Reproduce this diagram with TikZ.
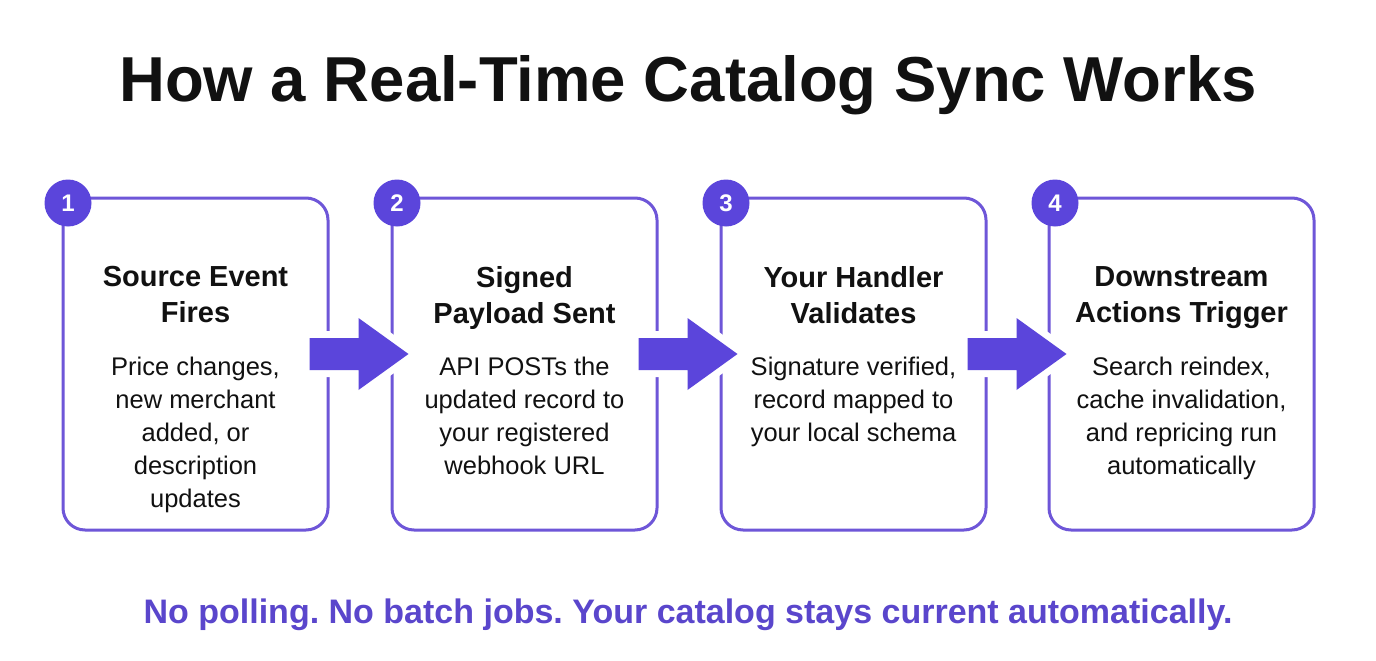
\documentclass[tikz,border=0pt]{standalone}
\usepackage{fontspec}
\setmainfont{Liberation Sans}
\usetikzlibrary{calc}
\frenchspacing
\definecolor{accent}{HTML}{5B45DB}
\definecolor{boxline}{HTML}{6E56D8}
\definecolor{foot}{HTML}{5A46CC}
\definecolor{ink}{HTML}{111111}
\tikzset{
  stepbox/.style={draw=boxline, line width=3pt, rounded corners=22pt, minimum width=265pt, minimum height=332pt, inner sep=0pt, fill=white},
  badge/.style={circle, fill=accent, minimum size=47pt, inner sep=0pt, text=white, font=\fontsize{24}{26}\selectfont\bfseries},
  steptitle/.style={anchor=north, align=center, inner sep=0pt, text=ink, font=\fontsize{29}{36}\selectfont\bfseries},
  stepbody/.style={anchor=north, align=center, inner sep=0pt, text=ink, font=\fontsize{25.5}{33}\selectfont},
  arrowhalo/.style={draw=white, fill=white, line width=14pt, line join=miter},
  arrowfill/.style={fill=accent},
}
\begin{document}
\begin{tikzpicture}[x=1pt,y=-1pt]
\useasboundingbox[fill=white] (0,0) rectangle (1376,661);
\node[anchor=base, inner sep=0pt, text=ink, font=\fontsize{63.5}{70}\selectfont\bfseries] (title) at (688,101) {How a Real-Time Catalog Sync Works};

\foreach \i/\cx in {1/195.5,2/524.5,3/853.5,4/1181.5}{
  \node[stepbox] (b\i) at (\cx,364) {};
}

% block arrows between consecutive boxes
\foreach \i in {1,2,3}{
  \path let \p1=(b\i.east) in
    coordinate (a\i s) at (\x1-20,354)
    coordinate (a\i t) at (\x1+79,354);
  \filldraw[arrowhalo]
    ($(a\i s)+(0,-16)$) -- ++(49,0) -- ++(0,-20) -- (a\i t) -- ($(a\i s)+(49,36)$) -- ++(0,-20) -- ($(a\i s)+(0,16)$) -- cycle;
  \fill[arrowfill]
    ($(a\i s)+(0,-16)$) -- ++(49,0) -- ++(0,-20) -- (a\i t) -- ($(a\i s)+(49,36)$) -- ++(0,-20) -- ($(a\i s)+(0,16)$) -- cycle;
}

\foreach \i/\bx in {1/68,2/397,3/726,4/1055}{
  \node[badge] (n\i) at (\bx,203) {\i};
}

\node[steptitle] (t1) at (195.5,266) {Source Event\\Fires};
\node[steptitle] (t2) at (524.5,266) {Signed\\Payload Sent};
\node[steptitle] (t3) at (853.5,266) {Your Handler\\Validates};
\node[steptitle] (t4) at (1181.5,266) {Downstream\\Actions Trigger};

\node[stepbody] (d1) at (195.5,357) {Price changes,\\new merchant\\added, or\\description\\updates};
\node[stepbody] (d2) at (524.5,357) {API POSTs the\\updated record to\\your registered\\webhook URL};
\node[stepbody] (d3) at (853.5,357) {Signature verified,\\record mapped to\\your local schema};
\node[stepbody] (d4) at (1181.5,357) {Search reindex,\\cache invalidation,\\and repricing run\\automatically};

\node[anchor=base, inner sep=0pt, text=foot, font=\fontsize{34}{40}\selectfont\bfseries] (footer) at (688,623) {No polling. No batch jobs. Your catalog stays current automatically.};
\end{tikzpicture}
\end{document}
